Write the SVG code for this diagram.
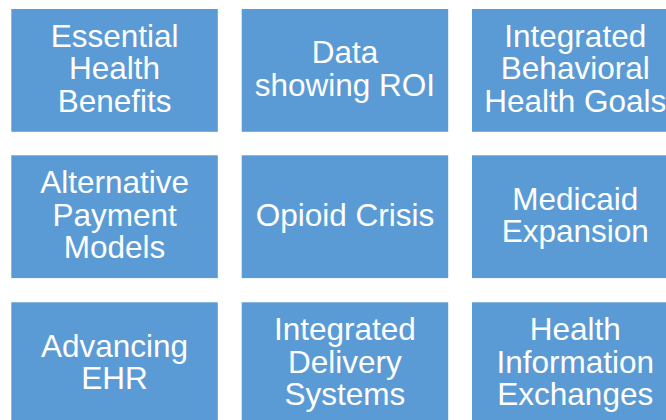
<svg xmlns="http://www.w3.org/2000/svg" width="666" height="420" viewBox="0 0 666 420">
<style>
.box{fill:#5B9BD5;}
.lbl{fill:#FFFFFF;font-family:"Liberation Sans",Arial,sans-serif;font-size:31.5px;text-anchor:middle;}
</style>
<rect width="666" height="420" fill="#FFFFFF"/>
<g id="node-essential-health-benefits">
<rect class="box" x="11.3" y="9" width="206.5" height="122.8"/>
<text class="lbl"><tspan x="114.55" y="46.75">Essential</tspan><tspan x="114.55" y="79.25">Health</tspan><tspan x="114.55" y="111.75">Benefits</tspan></text>
</g>
<g id="node-data-showing-roi">
<rect class="box" x="241.7" y="9" width="206.5" height="122.8"/>
<text class="lbl"><tspan x="344.95" y="63.2">Data</tspan><tspan x="344.95" y="95.7">showing ROI</tspan></text>
</g>
<g id="node-integrated-behavioral-health-goals">
<rect class="box" x="472" y="9" width="206.5" height="122.8"/>
<text class="lbl"><tspan x="575.25" y="46.75">Integrated</tspan><tspan x="575.25" y="79.25">Behavioral</tspan><tspan x="575.25" y="111.75">Health Goals</tspan></text>
</g>
<g id="node-alternative-payment-models">
<rect class="box" x="11.3" y="155.3" width="206.5" height="122.8"/>
<text class="lbl"><tspan x="114.55" y="193">Alternative</tspan><tspan x="114.55" y="225.5">Payment</tspan><tspan x="114.55" y="258">Models</tspan></text>
</g>
<g id="node-opioid-crisis">
<rect class="box" x="241.7" y="155.3" width="206.5" height="122.8"/>
<text class="lbl"><tspan x="344.95" y="226">Opioid Crisis</tspan></text>
</g>
<g id="node-medicaid-expansion">
<rect class="box" x="472" y="155.3" width="206.5" height="122.8"/>
<text class="lbl"><tspan x="575.25" y="209.5">Medicaid</tspan><tspan x="575.25" y="242">Expansion</tspan></text>
</g>
<g id="node-advancing-ehr">
<rect class="box" x="11.3" y="302.3" width="206.5" height="122.8"/>
<text class="lbl"><tspan x="114.55" y="356.7">Advancing</tspan><tspan x="114.55" y="389.2">EHR</tspan></text>
</g>
<g id="node-integrated-delivery-systems">
<rect class="box" x="241.7" y="302.3" width="206.5" height="122.8"/>
<text class="lbl"><tspan x="344.95" y="340.2">Integrated</tspan><tspan x="344.95" y="372.7">Delivery</tspan><tspan x="344.95" y="405.2">Systems</tspan></text>
</g>
<g id="node-health-information-exchanges">
<rect class="box" x="472" y="302.3" width="206.5" height="122.8"/>
<text class="lbl"><tspan x="575.25" y="340.2">Health</tspan><tspan x="575.25" y="372.7">Information</tspan><tspan x="575.25" y="405.2">Exchanges</tspan></text>
</g>
<g id="connectors"></g>
</svg>
